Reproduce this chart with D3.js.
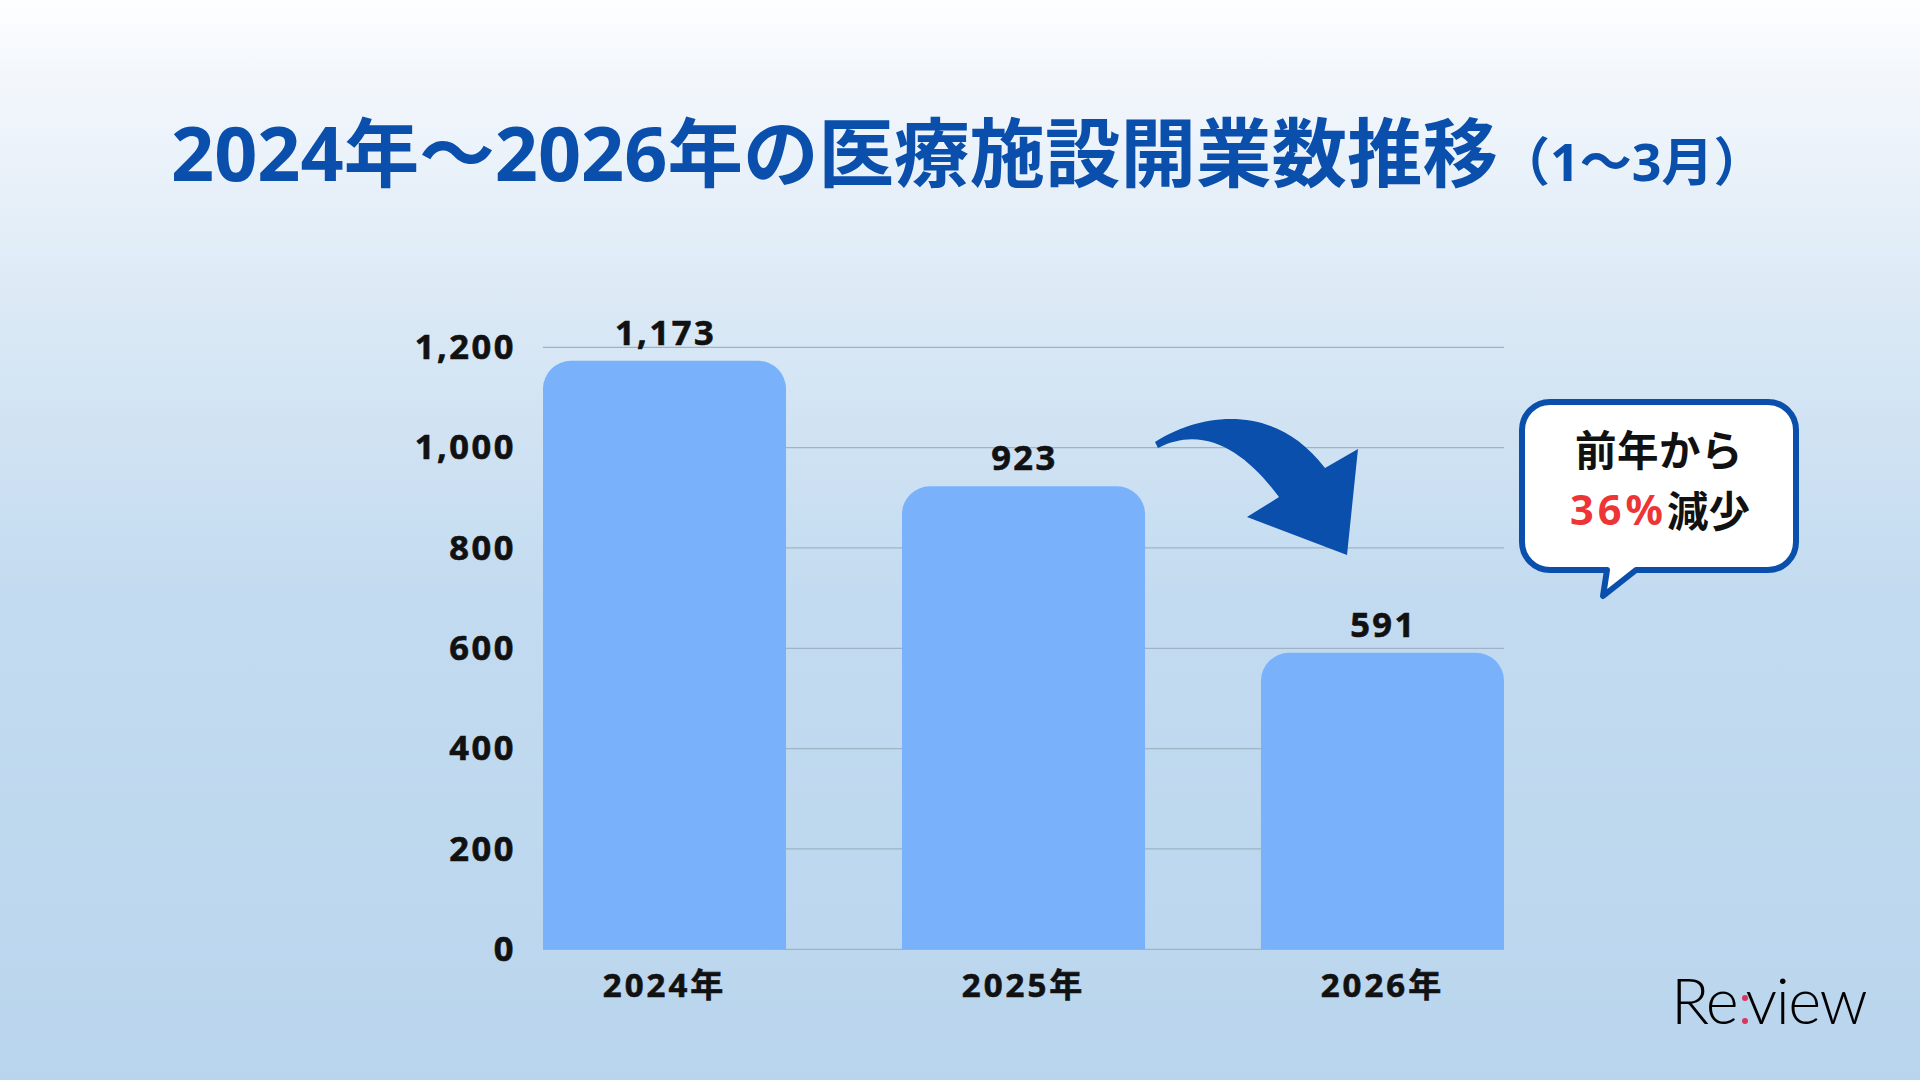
<!DOCTYPE html>
<html>
<head>
<meta charset="utf-8">
<script src="https://cdn.jsdelivr.net/npm/d3@7"></script>
<style>
  html, body { margin: 0; padding: 0; }
  body { width: 1920px; height: 1080px; overflow: hidden; }
  svg { display: block; }
</style>
</head>
<body>
<svg id="chart" width="1920" height="1080"></svg>
<script>
const categories = ["2024年", "2025年", "2026年"];
const values = [1173, 923, 591];
const yTicks = [0, 200, 400, 600, 800, 1000, 1200];
const titleMain = "2024年～2026年の医療施設開業数推移";
const titleSub = "（1～3月）";
const calloutLine1 = "前年から";
const calloutPct = "36%";
const calloutRest = "減少";

const svg = d3.select("#chart");
const W = 1920, H = 1080;

// background gradient
const defs = svg.append("defs");
const grad = defs.append("linearGradient").attr("id", "bg").attr("x1", 0).attr("y1", 0).attr("x2", 0).attr("y2", 1);
[[0, "#fdfeff"], [0.07, "#f3f7fc"], [0.3, "#d9e8f5"], [0.55, "#c3dbf0"], [1, "#b9d5ed"]].forEach(([o, c]) =>
  grad.append("stop").attr("offset", o).attr("stop-color", c));
svg.append("rect").attr("width", W).attr("height", H).attr("fill", "url(#bg)");

const FONT = "'Noto Sans', 'Noto Sans CJK JP', sans-serif";

// Title
const title = svg.append("text")
  .attr("x", 171).attr("y", 181)
  .attr("font-family", FONT).attr("font-weight", 700)
  .attr("font-size", 75.5).attr("fill", "#0a4fac");
title.append("tspan").text(titleMain);
title.append("tspan").attr("font-size", 52).attr("dx", 0).text(titleSub);

// scales
const x = d3.scaleBand().domain(categories).range([543, 1504]).paddingInner(0.323).paddingOuter(0);
const y = d3.scaleLinear().domain([0, 1200]).range([949.3, 347.3]);

// gridlines
svg.append("g").selectAll("line").data(yTicks).join("line")
  .attr("x1", 543).attr("x2", 1504)
  .attr("y1", d => y(d)).attr("y2", d => y(d))
  .attr("stroke", "#9fb3c4").attr("stroke-width", 1.2);

// y axis labels
const yAxis = svg.append("g").attr("transform", "translate(543,0)")
  .call(d3.axisLeft(y).tickValues(yTicks).tickFormat(d3.format(",")).tickSize(0).tickPadding(27));
yAxis.select(".domain").remove();
yAxis.selectAll("text")
  .attr("font-family", FONT).attr("font-weight", 700).attr("font-size", 34.5)
  .attr("letter-spacing", "2.5px").attr("fill", "#111")
  .attr("stroke", "#111").attr("stroke-width", 0.6);

// bars with rounded top corners
const r = 28;
function barPath(d, i) {
  const x0 = x(categories[i]), w = x.bandwidth();
  const y0 = y(d), y1 = y(0);
  return `M${x0},${y1} V${y0 + r} A${r},${r} 0 0 1 ${x0 + r},${y0} H${x0 + w - r} A${r},${r} 0 0 1 ${x0 + w},${y0 + r} V${y1} Z`;
}
svg.append("g").selectAll("path").data(values).join("path")
  .attr("d", (d, i) => barPath(d, i))
  .attr("fill", "#79b2fb");

// value labels
svg.append("g").selectAll("text").data(values).join("text")
  .attr("x", (d, i) => x(categories[i]) + x.bandwidth() / 2 + 1)
  .attr("y", d => y(d) - 16)
  .attr("text-anchor", "middle")
  .attr("font-family", FONT).attr("font-weight", 700).attr("font-size", 34.5)
  .attr("letter-spacing", "2.5px").attr("fill", "#111")
  .attr("stroke", "#111").attr("stroke-width", 0.6)
  .text(d => d3.format(",")(d));

// x axis labels
const xAxis = svg.append("g").attr("transform", `translate(0,${y(0)})`)
  .call(d3.axisBottom(x).tickSize(0).tickPadding(24));
xAxis.select(".domain").remove();
xAxis.selectAll("text")
  .attr("font-family", FONT).attr("font-weight", 700).attr("font-size", 33)
  .attr("letter-spacing", "3px").attr("fill", "#111")
  .attr("stroke", "#111").attr("stroke-width", 0.6);

// curved arrow
svg.append("path")
  .attr("d", "M1155,442 C1195,416 1272,398 1325,468 L1358,449 L1347,555 L1247,517 L1279,497 C1246,452 1204,424 1158,448 Z")
  .attr("fill", "#0a4fac");

// callout bubble
const bx0 = 1522, bx1 = 1796, by0 = 402, by1 = 570, br = 28;
const bubble = `M${bx0 + br},${by0} H${bx1 - br} A${br},${br} 0 0 1 ${bx1},${by0 + br} V${by1 - br} A${br},${br} 0 0 1 ${bx1 - br},${by1} H1636 L1603,596 L1607,${by1} H${bx0 + br} A${br},${br} 0 0 1 ${bx0},${by1 - br} V${by0 + br} A${br},${br} 0 0 1 ${bx0 + br},${by0} Z`;
svg.append("path").attr("d", bubble)
  .attr("fill", "#ffffff").attr("stroke", "#0a4fac").attr("stroke-width", 6).attr("stroke-linejoin", "round");

svg.append("text")
  .attr("x", 1659).attr("y", 448).attr("text-anchor", "middle").attr("dominant-baseline", "central")
  .attr("font-family", "'Noto Sans CJK JP', sans-serif").attr("font-weight", 700).attr("font-size", 41.5)
  .attr("letter-spacing", "0.5px")
  .attr("fill", "#111").text(calloutLine1);
const l2 = svg.append("text")
  .attr("x", 1660).attr("y", 509).attr("text-anchor", "middle").attr("dominant-baseline", "central")
  .attr("font-family", FONT).attr("font-weight", 700).attr("font-size", 41.5).attr("fill", "#111");
l2.append("tspan").attr("fill", "#ee3535").attr("letter-spacing", "4px").text(calloutPct);
l2.append("tspan").attr("font-family", "'Noto Sans CJK JP', sans-serif").text(calloutRest);

// logo (colon drawn as two red dots)
const logo = svg.append("text")
  .attr("x", 1671).attr("y", 1024)
  .attr("font-family", "Lato, 'Open Sans', sans-serif").attr("font-weight", 300)
  .attr("font-size", 63).attr("fill", "#000").attr("letter-spacing", "-1.5px");
logo.append("tspan").text("Re");
logo.append("tspan").attr("dx", 9).text("view");
svg.append("g").selectAll("circle").data([998, 1021]).join("circle")
  .attr("cx", 1745).attr("cy", d => d).attr("r", 3).attr("fill", "#d8365c");
</script>
</body>
</html>
